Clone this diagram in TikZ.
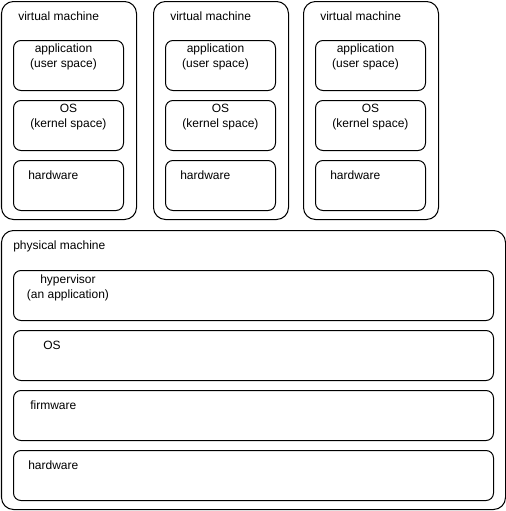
\documentclass[tikz,border=0pt]{standalone}
\usepackage{fontspec}
\setmainfont{Liberation Sans}
\usetikzlibrary{positioning}

\begin{document}
\begin{tikzpicture}[x=0.75pt, y=-0.75pt, black,
    size/.style 2 args={minimum width=#1*0.75pt, minimum height=#2*0.75pt},
    outerbox/.style={draw, line width=0.75pt, rounded corners=9pt, inner sep=0pt, anchor=north west},
    innerbox/.style={draw, line width=0.75pt, rounded corners=5.6pt, inner sep=0pt, anchor=north west, size={110}{50}},
    txt/.style={inner sep=0pt, font=\fontsize{9pt}{11.25pt}\selectfont, align=center}]
    \useasboundingbox (0,0) rectangle (506,511);

    % virtual machines
    \foreach \i/\x in {1/1, 2/153, 3/303}{
        \node (vm\i) [outerbox, size={135}{218}] at (\x,1) {};
        \node (vmlabel\i) [txt, anchor=base west] at ([shift={(17,19)}]vm\i.north west) {virtual machine};

        \node (app\i) [innerbox] at (\x+12,40) {};
        \node (applabel\i) [txt, anchor=north] at ([shift={(-5,4)}]app\i.north) {application\\(user space)};

        \node (os\i) [innerbox] at (\x+12,100) {};
        \node (oslabel\i) [txt, anchor=north] at ([shift={(0,4)}]os\i.north) {OS\\(kernel space)};

        \node (hw\i) [innerbox] at (\x+12,160) {};
        \node (hwlabel\i) [txt, anchor=base west] at ([shift={(15,19)}]hw\i.north west) {hardware};
    }

    % physical machine
    \node (pm) [outerbox, size={504}{279}] at (1,230) {};
    \node (pmlabel) [txt, anchor=base west] at ([shift={(12,19)}]pm.north west) {physical machine};

    \node (hyp) [innerbox, size={480}{50}] at (13,270) {};
    \node (hyplabel) [txt, anchor=north] at ([shift={(55,5)}]hyp.north west) {hypervisor\\(an application)};

    \node (pos) [innerbox, size={480}{50}] at (13,330) {};
    \node (poslabel) [txt, anchor=base] at ([shift={(39,19)}]pos.north west) {OS};

    \node (fw) [innerbox, size={480}{50}] at (13,390) {};
    \node (fwlabel) [txt, anchor=base west] at ([shift={(17,19)}]fw.north west) {firmware};

    \node (phw) [innerbox, size={480}{50}] at (13,450) {};
    \node (phwlabel) [txt, anchor=base west] at ([shift={(15,19)}]phw.north west) {hardware};
\end{tikzpicture}
\end{document}
